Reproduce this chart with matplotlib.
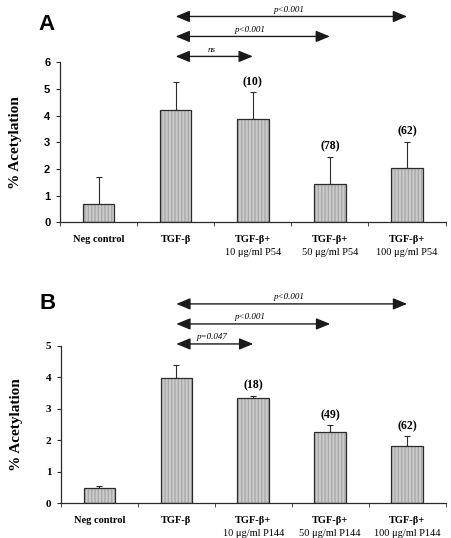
import matplotlib
matplotlib.use("Agg")
import matplotlib.pyplot as plt

# data
groups_first = ["Neg control", "TGF-\u03b2", "TGF-\u03b2+", "TGF-\u03b2+", "TGF-\u03b2+"]
groups_a_second = ["", "", "10 \u03bcg/ml P54", "50 \u03bcg/ml P54", "100 \u03bcg/ml P54"]
groups_b_second = ["", "", "10 \u03bcg/ml P144", "50 \u03bcg/ml P144", "100 \u03bcg/ml P144"]

a_values = [0.68, 4.22, 3.87, 1.45, 2.02]
a_errors = [1.00, 1.03, 1.01, 1.00, 1.00]
a_notes = ["", "", "(10)", "(78)", "(62)"]
a_comparisons = [(1, 4, "p<0.001"), (1, 3, "p<0.001"), (1, 2, "ns")]

b_values = [0.48, 3.97, 3.35, 2.27, 1.83]
b_errors = [0.05, 0.41, 0.07, 0.21, 0.30]
b_notes = ["", "", "(18)", "(49)", "(62)"]
b_comparisons = [(1, 4, "p<0.001"), (1, 3, "p<0.001"), (1, 2, "p=0.047")]

SERIF = "Liberation Serif"
SANS = "Liberation Sans"
DARK = "#2b2b2b"

fig = plt.figure(figsize=(4.51, 5.38), dpi=100)
ax_a = fig.add_axes([0.133, 0.587, 0.855, 0.297])
ax_b = fig.add_axes([0.135, 0.065, 0.853, 0.292])


def draw_panel(ax, letter, values, errors, notes, comps, second, ymax, arrow_y, letter_y, tick_font):
    x = list(range(len(values)))
    ax.bar(x, values, width=0.41, color="#cbcbcb", edgecolor="#a9a9a9",
           linewidth=0, hatch="|||||", zorder=2)
    ax.bar(x, values, width=0.41, fill=False, edgecolor=DARK, linewidth=0.9, zorder=3)
    ax.errorbar(x, values, yerr=[[0] * len(values), errors], fmt="none",
                ecolor=DARK, elinewidth=0.8, capsize=2.5, capthick=0.8, zorder=1)

    for i, note in enumerate(notes):
        if note:
            ax.annotate(note, (i, values[i] + errors[i]), xytext=(0, 3),
                        textcoords="offset points", ha="center", va="bottom",
                        fontsize=8.5, fontweight="bold", family=SERIF)

    for (s, e, lab), yy in zip(comps, arrow_y):
        ax.annotate("", xy=(e, yy), xytext=(s, yy),
                    xycoords=("data", "axes fraction"),
                    textcoords=("data", "axes fraction"),
                    arrowprops=dict(arrowstyle="<|-|>,head_length=0.85,head_width=0.35",
                                    mutation_scale=10, color="#1a1a1a", lw=1.0,
                                    shrinkA=0, shrinkB=0),
                    annotation_clip=False)
        ax.annotate(lab, xy=((s + e) / 2, yy), xycoords=("data", "axes fraction"),
                    xytext=(-2, 2), textcoords="offset points",
                    ha="center", va="bottom", fontsize=6.5, style="italic",
                    family=SERIF, annotation_clip=False)

    ax.set_xlim(-0.5, len(values) - 0.5)
    ax.set_ylim(0, ymax)
    ax.set_yticks(range(ymax + 1))
    ax.set_yticklabels([str(v) for v in range(ymax + 1)], fontsize=8,
                       fontweight="bold", family=tick_font)
    ax.set_xticks(x)
    ax.set_xticklabels(groups_first, fontsize=7.5, fontweight="bold", family=SERIF)
    ax.set_xticks([v - 0.5 for v in range(len(values) + 1)], minor=True)
    ax.tick_params(axis="x", which="major", length=0, pad=9)
    ax.tick_params(axis="x", which="minor", length=3, direction="out", color=DARK)
    ax.tick_params(axis="y", length=3, direction="out", color=DARK, pad=4)
    for i, lab in enumerate(second):
        if lab:
            ax.annotate(lab, (i, 0), xycoords=("data", "axes fraction"),
                        xytext=(0, -22), textcoords="offset points",
                        ha="center", va="center", fontsize=7.5, family=SERIF,
                        annotation_clip=False)

    for side in ["top", "right"]:
        ax.spines[side].set_visible(False)
    for side in ["left", "bottom"]:
        ax.spines[side].set_color(DARK)
        ax.spines[side].set_linewidth(0.9)

    ax.set_ylabel("% Acetylation", fontsize=11, fontweight="bold", family=SERIF,
                  labelpad=16)
    ax.text(-0.034, letter_y, letter, transform=ax.transAxes, fontsize=16,
            fontweight="bold", family=SANS, ha="center", va="center")


draw_panel(ax_a, "A", a_values, a_errors, a_notes, a_comparisons, groups_a_second,
           6, [1.2875, 1.1625, 1.0375], 1.24, SANS)
draw_panel(ax_b, "B", b_values, b_errors, b_notes, b_comparisons, groups_b_second,
           5, [1.2675, 1.14, 1.0127], 1.27, SERIF)

fig.savefig("out.png", dpi=100)
